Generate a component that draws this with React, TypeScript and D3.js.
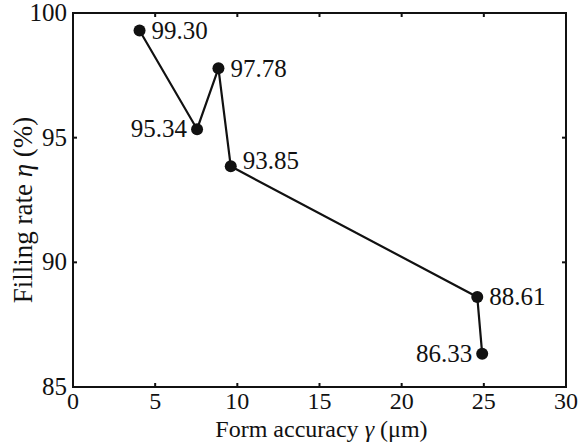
import React, { useRef, useEffect } from 'react';
import * as d3 from 'd3';

// form accuracy (um) vs filling rate (%)
const accuracy = [4.05, 7.55, 8.85, 9.6, 24.6, 24.9];
const filling = [99.30, 95.34, 97.78, 93.85, 88.61, 86.33];
const labelSide = ['right', 'left', 'right', 'rightUp', 'right', 'left'];
const xTicks = [0, 5, 10, 15, 20, 25, 30];
const yTicks = [85, 90, 95, 100];

const App: React.FC = () => {
  const svgRef = useRef<SVGSVGElement | null>(null);

  useEffect(() => {
    const svg = d3.select(svgRef.current);
    svg.selectAll('*').remove();
    const width = 583;
    const height = 443;
    const margin = { top: 13, right: 17, bottom: 56, left: 73 };
    const fs = 25;

    const x = d3.scaleLinear().domain([0, 30]).range([margin.left, width - margin.right]);
    const y = d3.scaleLinear().domain([85, 100]).range([height - margin.bottom, margin.top]);

    // frame
    svg.append('rect')
      .attr('x', x(0))
      .attr('y', y(100))
      .attr('width', x(30) - x(0))
      .attr('height', y(85) - y(100))
      .attr('fill', 'none')
      .attr('stroke', '#111')
      .attr('stroke-width', 2);

    // inward ticks, all four sides
    const tickLen = 4;
    xTicks.slice(1, -1).forEach(t => {
      svg.append('line').attr('x1', x(t)).attr('x2', x(t))
        .attr('y1', y(85)).attr('y2', y(85) - tickLen)
        .attr('stroke', '#111').attr('stroke-width', 2);
      svg.append('line').attr('x1', x(t)).attr('x2', x(t))
        .attr('y1', y(100)).attr('y2', y(100) + tickLen)
        .attr('stroke', '#111').attr('stroke-width', 2);
    });
    yTicks.slice(1, -1).forEach(t => {
      svg.append('line').attr('x1', x(0)).attr('x2', x(0) + tickLen)
        .attr('y1', y(t)).attr('y2', y(t))
        .attr('stroke', '#111').attr('stroke-width', 2);
      svg.append('line').attr('x1', x(30)).attr('x2', x(30) - tickLen)
        .attr('y1', y(t)).attr('y2', y(t))
        .attr('stroke', '#111').attr('stroke-width', 2);
    });

    const g = svg.append('g')
      .style('font-family', "'Liberation Serif', 'Times New Roman', Times, serif")
      .style('font-size', `${fs}px`)
      .style('fill', '#111');

    // tick labels
    g.append('g').selectAll('text')
      .data(xTicks)
      .enter()
      .append('text')
      .attr('x', d => x(d))
      .attr('y', y(85) + 22)
      .attr('text-anchor', 'middle')
      .style('font-size', '24px')
      .text(d => d);

    g.append('g').selectAll('text')
      .data(yTicks)
      .enter()
      .append('text')
      .attr('x', x(0) - 6)
      .attr('y', d => y(d))
      .attr('dy', '0.32em')
      .attr('text-anchor', 'end')
      .text(d => d);

    // axis titles
    const xt = g.append('text')
      .attr('x', (x(0) + x(30)) / 2 + 2)
      .attr('y', height - 6)
      .attr('text-anchor', 'middle')
      .style('font-size', '24px');
    xt.append('tspan').text('Form accuracy ');
    xt.append('tspan').style('font-style', 'italic').text('γ');
    xt.append('tspan').text(' (μm)');

    const yt = g.append('text')
      .attr('transform', `translate(32,${(y(85) + y(100)) / 2 + 10}) rotate(-90)`)
      .attr('text-anchor', 'middle')
      .style('font-size', '27px');
    yt.append('tspan').text('Filling rate ');
    yt.append('tspan').style('font-style', 'italic').text('η');
    yt.append('tspan').text(' (%)');

    const pts = accuracy.map((a, i) => ({ a, f: filling[i], side: labelSide[i] }));

    const line = d3.line<{ a: number; f: number }>()
      .x(d => x(d.a))
      .y(d => y(d.f));

    svg.append('path')
      .datum(pts)
      .attr('d', line)
      .attr('fill', 'none')
      .attr('stroke', '#111')
      .attr('stroke-width', 2.2);

    svg.append('g').selectAll('circle')
      .data(pts)
      .enter()
      .append('circle')
      .attr('cx', d => x(d.a))
      .attr('cy', d => y(d.f))
      .attr('r', 6)
      .attr('fill', '#111');

    g.append('g').selectAll('text')
      .data(pts)
      .enter()
      .append('text')
      .attr('x', d => x(d.a) + (d.side === 'left' ? -10 : 12))
      .attr('y', d => y(d.f) + (d.side === 'rightUp' ? -6 : 0))
      .attr('dy', '0.33em')
      .attr('text-anchor', d => (d.side === 'left' ? 'end' : 'start'))
      .text(d => d.f.toFixed(2));
  }, []);

  return (
    <svg
      ref={svgRef}
      width={583}
      height={443}
      style={{ position: 'absolute', left: 0, top: 0, background: '#fff' }}
    ></svg>
  );
};

export default App;
